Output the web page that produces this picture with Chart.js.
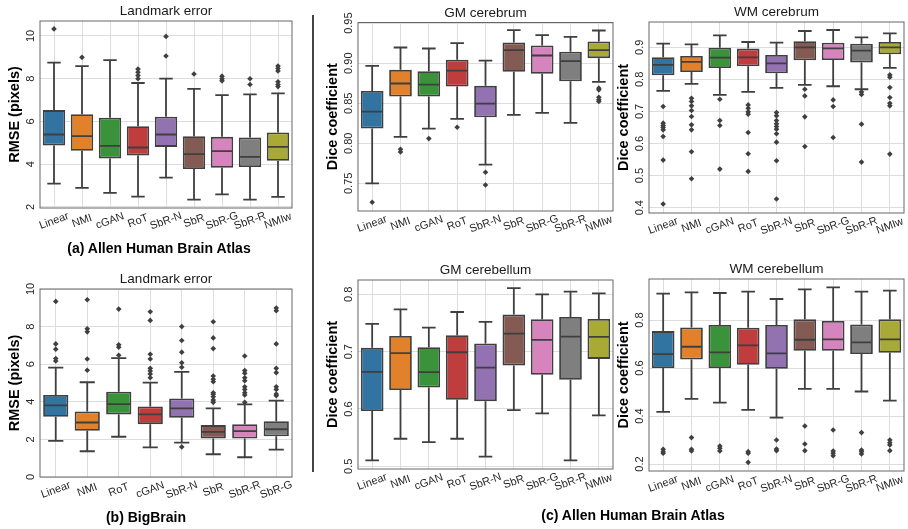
<!DOCTYPE html>
<html><head><meta charset="utf-8">
<script src="https://cdn.jsdelivr.net/npm/chart.js@4.4.1/dist/chart.umd.min.js"></script>
<style>
html,body{margin:0;padding:0;background:#fff;}
#wrap{position:relative;width:908px;height:529px;overflow:hidden;background:#fff;}
canvas{position:absolute;left:0;top:0;}
.cap{position:absolute;font-family:'Liberation Sans',Arial,sans-serif;font-weight:bold;font-size:14px;color:#000;white-space:nowrap;transform:translate(-50%,-50%);}
#sep{position:absolute;left:312px;top:15px;width:1.5px;height:457px;background:#444;}
</style></head><body>
<div id="wrap">
<canvas id="c1" width="908" height="529"></canvas>
<canvas id="c2" width="908" height="529"></canvas>
<canvas id="c3" width="908" height="529"></canvas>
<canvas id="c4" width="908" height="529"></canvas>
<canvas id="c5" width="908" height="529"></canvas>
<canvas id="c6" width="908" height="529"></canvas>
<div class="cap" style="left:159px;top:248px">(a) Allen Human Brain Atlas</div>
<div class="cap" style="left:146px;top:517px">(b) BigBrain</div>
<div class="cap" style="left:633px;top:515px">(c) Allen Human Brain Atlas</div>
<div id="sep"></div>
</div>
<script>
// ---------- data ----------
const catsAllen = ['Linear','NMI','cGAN','RoT','SbR-N','SbR','SbR-G','SbR-R','NMIw'];
const catsBig = ['Linear','NMI','RoT','cGAN','SbR-N','SbR','SbR-R','SbR-G'];

// (a) Landmark error, Allen
const a_q1  = [4.87, 4.63, 4.27, 4.41, 4.81, 3.77, 3.83, 3.87, 4.16];
const a_med = [5.39, 5.31, 4.86, 4.78, 5.39, 4.47, 4.61, 4.34, 4.81];
const a_q3  = [6.53, 6.34, 6.17, 5.78, 6.22, 5.31, 5.28, 5.25, 5.48];
const a_lo  = [3.09, 2.89, 2.66, 2.48, 3.37, 2.34, 2.59, 2.34, 2.47];
const a_hi  = [8.75, 8.59, 8.87, 7.80, 8.00, 7.52, 7.23, 7.27, 7.31];
const a_out = [[10.33],[9.0],[],[8.45,8.3,8.15,8.0],[9.98,9.06],[8.22],[8.12,8.0,7.9],[8.0,7.73],[8.59,8.48,8.36,7.86,7.73,7.63]];
const a_ticks = [2,4,6,8,10];

// (b) Landmark error, BigBrain
const b_q1  = [3.20, 2.46, 3.33, 2.81, 3.15, 2.05, 2.05, 2.17];
const b_med = [3.81, 2.90, 3.88, 3.33, 3.65, 2.40, 2.44, 2.54];
const b_q3  = [4.36, 3.49, 4.54, 3.75, 4.18, 2.76, 2.81, 2.97];
const b_lo  = [1.92, 1.37, 2.14, 1.58, 1.83, 1.21, 1.05, 1.46];
const b_hi  = [5.82, 5.04, 6.32, 5.02, 5.59, 3.65, 3.86, 4.06];
const b_out = [[9.34,7.08,6.8,6.3,6.17],[9.43,7.88,7.72,6.28,5.68],[8.93,7.03,6.9,6.48],
  [8.79,8.33,6.53,6.28,5.78,5.64,5.48,5.28],[8.0,7.26,6.64,6.08,5.84,1.6],
  [8.26,7.4,6.83,5.37,5.2,5.07,4.48,4.4,4.27,4.09,3.97],
  [6.44,5.66,5.52,5.28,5.12,4.8,4.66,4.48,4.36,3.97],
  [8.99,8.84,7.08,5.78,5.55,4.8,4.66,4.41,4.32]];
const b_ticks = [0,2,4,6,8,10];

// (c1) GM cerebrum
const gm_q1  = [0.8183,0.8583,0.8583,0.8708,0.8325,0.8892,0.8867,0.8775,0.9063];
const gm_med = [0.8396,0.8746,0.8733,0.8908,0.8496,0.9163,0.9096,0.9025,0.9163];
const gm_q3  = [0.8654,0.8917,0.8900,0.9042,0.8717,0.9258,0.9221,0.9142,0.9271];
const gm_lo  = [0.7500,0.8079,0.8183,0.8304,0.7733,0.8354,0.8379,0.8254,0.8767];
const gm_hi  = [0.8967,0.9196,0.9183,0.9250,0.9033,0.9413,0.9350,0.9329,0.9408];
const gm_out = [[0.7263],[0.7925,0.7892],[0.8058],[0.82],[0.7637,0.7479],[],[],[],[0.8688,0.8667,0.8575,0.8542,0.8521]];
const gm_ticks = [0.75,0.80,0.85,0.90,0.95];

// (c2) WM cerebrum
const wm_q1  = [0.8129,0.8232,0.8357,0.8409,0.8191,0.8595,0.8606,0.8523,0.8782];
const wm_med = [0.8450,0.8544,0.8678,0.8689,0.8502,0.9000,0.8969,0.8896,0.9000];
const wm_q3  = [0.8689,0.8730,0.8990,0.8959,0.8761,0.9187,0.9145,0.9114,0.9166];
const wm_lo  = [0.7641,0.7859,0.7517,0.7610,0.7734,0.7828,0.7786,0.7693,0.8357];
const wm_hi  = [0.9114,0.9093,0.9373,0.9166,0.9145,0.9508,0.9539,0.9311,0.9436];
const wm_out = [[0.7154,0.6635,0.656,0.65,0.6427,0.622,0.5483,0.4114],
  [0.7413,0.7309,0.7174,0.7029,0.6842,0.6583,0.6427,0.5743,0.4903],
  [0.7382,0.6718,0.6562,0.5203],
  [0.7205,0.7102,0.6988,0.6915,0.6344,0.568,0.5131],
  [0.6967,0.6863,0.6718,0.6614,0.6531,0.6448,0.6303,0.6043,0.5463,0.427],
  [0.7693,0.7485,0.6832,0.5909],
  [0.7361,0.7154,0.6189],
  [0.761,0.7527,0.6604,0.5421],
  [0.8139,0.8066,0.7745,0.7434,0.7257,0.7174,0.567]];
const wm_ticks = [0.4,0.5,0.6,0.7,0.8,0.9];

// (c3) GM cerebellum
const gmc_q1  = [0.5963,0.6329,0.6375,0.6160,0.6137,0.6758,0.6595,0.6508,0.6874];
const gmc_med = [0.6648,0.6973,0.6642,0.6990,0.6723,0.7315,0.7205,0.7263,0.7257];
const gmc_q3  = [0.7066,0.7275,0.7077,0.7286,0.7141,0.7646,0.7565,0.7605,0.7571];
const gmc_lo  = [0.5104,0.5481,0.5423,0.5481,0.5168,0.5980,0.5922,0.5104,0.5887];
const gmc_hi  = [0.7483,0.7739,0.7420,0.7692,0.7518,0.8110,0.8000,0.8046,0.8017];
const gmc_out = [[],[],[],[],[],[],[],[],[]];
const gmc_ticks = [0.5,0.6,0.7,0.8];

// (c4) WM cerebellum
const wmc_q1  = [0.6000,0.6358,0.6000,0.6135,0.5968,0.6720,0.6720,0.6580,0.6636];
const wmc_med = [0.6580,0.6887,0.6650,0.6942,0.6608,0.7179,0.7193,0.7067,0.7193];
const wmc_q3  = [0.7540,0.7694,0.7791,0.7680,0.7791,0.8028,0.7958,0.7819,0.8028];
const wmc_lo  = [0.4173,0.4715,0.4562,0.4256,0.3936,0.5133,0.5133,0.5022,0.4646];
const wmc_hi  = [0.9100,0.9155,0.9127,0.9183,0.8877,0.9280,0.9364,0.9183,0.9225];
const wmc_out = [[0.2614,0.2516,0.2447],[0.3101,0.2614,0.2544],[0.2753,0.2656,0.2544],
  [0.2516,0.2447,0.2071],[0.3003,0.2628,0.2558],[0.3588,0.2836,0.2558],
  [0.3421,0.2544,0.2447,0.2349],[0.331,0.2586,0.2516,0.2419],[0.3003,0.2892,0.2795,0.2558]];
const wmc_ticks = [0.2,0.4,0.6,0.8];

// ---------- style ----------
const palette = ['#3274a1','#e1812c','#3a923a','#c03d3e','#9372b2','#845b53','#d684bd','#7f7f7f','#a9aa35'];
const LINE = '#3f3f3f';
const FONT = "'Liberation Sans', Arial, sans-serif";

function makePanel(id, p) {
  const [L, T, R, B] = p.rect;
  const outPts = [];
  p.out.forEach((arr, i) => arr.forEach(v => outPts.push({x: p.cats[i], y: v})));
  const deco = {
    id: 'deco' + id,
    afterDatasetsDraw(chart) {
      const ctx = chart.ctx, ys = chart.scales.y;
      const meta = chart.getDatasetMeta(0);
      ctx.save();
      ctx.strokeStyle = LINE;
      ctx.lineWidth = 1.8;
      meta.data.forEach((bar, i) => {
        const x = bar.x, w = bar.width;
        const cap = w * 0.3;
        const yq1 = ys.getPixelForValue(p.q1[i]), yq3 = ys.getPixelForValue(p.q3[i]);
        const ylo = ys.getPixelForValue(p.lo[i]), yhi = ys.getPixelForValue(p.hi[i]);
        const ym = ys.getPixelForValue(p.med[i]);
        ctx.beginPath();
        ctx.moveTo(x, yq3); ctx.lineTo(x, yhi);
        ctx.moveTo(x - cap, yhi); ctx.lineTo(x + cap, yhi);
        ctx.moveTo(x, yq1); ctx.lineTo(x, ylo);
        ctx.moveTo(x - cap, ylo); ctx.lineTo(x + cap, ylo);
        ctx.moveTo(x - w / 2 + 1, ym); ctx.lineTo(x + w / 2 - 1, ym);
        ctx.stroke();
      });
      ctx.restore();
    },
    afterDraw(chart) {
      const ctx = chart.ctx, a = chart.chartArea;
      const ys = chart.scales.y, xs = chart.scales.x;
      ctx.save();
      ctx.strokeStyle = '#666';
      ctx.lineWidth = 1;
      ctx.strokeRect(a.left, a.top, a.right - a.left, a.bottom - a.top);
      ctx.fillStyle = '#262626';
      ctx.font = '11px ' + FONT;
      ctx.textAlign = 'center';
      ctx.textBaseline = 'middle';
      p.ticks.forEach(v => {
        const y = ys.getPixelForValue(v);
        ctx.save();
        ctx.translate(a.left - 9, y);
        ctx.rotate(-Math.PI / 2);
        ctx.fillText(v.toFixed(p.dec), 0, 0);
        ctx.restore();
      });
      p.cats.forEach((c, i) => {
        const x = xs.getPixelForValue(i);
        ctx.save();
        ctx.translate(x, a.bottom + 13);
        ctx.rotate(-20 * Math.PI / 180);
        ctx.fillText(c, 0, 0);
        ctx.restore();
      });
      ctx.fillStyle = '#000';
      ctx.font = 'bold 14.5px ' + FONT;
      ctx.save();
      ctx.translate(a.left - 25, (a.top + a.bottom) / 2);
      ctx.rotate(-Math.PI / 2);
      ctx.fillText(p.ytitle, 0, 0);
      ctx.restore();
      ctx.fillStyle = '#1a1a1a';
      ctx.font = '13.5px ' + FONT;
      ctx.fillText(p.title, (a.left + a.right) / 2, a.top - 9.5);
      ctx.restore();
    }
  };
  new Chart(document.getElementById(id), {
    type: 'bar',
    data: {
      labels: p.cats,
      datasets: [
        {
          type: 'bar',
          data: p.cats.map((c, i) => [p.q1[i], p.q3[i]]),
          backgroundColor: p.cats.map((c, i) => palette[i]),
          borderColor: LINE,
          borderWidth: 1.8,
          borderSkipped: false,
          barPercentage: 0.8,
          categoryPercentage: 1.0
        },
        {
          type: 'line',
          data: outPts,
          showLine: false,
          pointStyle: 'rectRot',
          pointRadius: 2.8,
          pointBackgroundColor: LINE,
          pointBorderColor: LINE,
          pointBorderWidth: 0
        }
      ]
    },
    options: {
      responsive: false,
      animation: false,
      events: [],
      layout: { padding: { left: L, top: T, right: 908 - R, bottom: 529 - B } },
      plugins: { legend: { display: false }, tooltip: { enabled: false }, title: { display: false } },
      scales: {
        x: {
          type: 'category',
          offset: true,
          grid: { offset: false, color: '#dddddd', lineWidth: 1, drawTicks: false },
          border: { display: false },
          ticks: { display: false },
          afterFit: s => { s.height = 0; }
        },
        y: {
          type: 'linear',
          min: p.range[0],
          max: p.range[1],
          grid: { color: '#dddddd', lineWidth: 1, drawTicks: false },
          border: { display: false },
          ticks: { display: false },
          afterBuildTicks: s => { s.ticks = p.ticks.map(v => ({ value: v })); },
          afterFit: s => { s.width = 0; }
        }
      }
    },
    plugins: [deco]
  });
}

makePanel('c1', {cats: catsAllen, q1: a_q1, med: a_med, q3: a_q3, lo: a_lo, hi: a_hi, out: a_out,
  ticks: a_ticks, dec: 0, range: [1.95, 10.7], rect: [40, 21, 292, 208], title: 'Landmark error', ytitle: 'RMSE (pixels)'});
makePanel('c2', {cats: catsBig, q1: b_q1, med: b_med, q3: b_q3, lo: b_lo, hi: b_hi, out: b_out,
  ticks: b_ticks, dec: 0, range: [0, 10], rect: [40, 289, 292, 477], title: 'Landmark error', ytitle: 'RMSE (pixels)'});
makePanel('c3', {cats: catsAllen, q1: gm_q1, med: gm_med, q3: gm_q3, lo: gm_lo, hi: gm_hi, out: gm_out,
  ticks: gm_ticks, dec: 2, range: [0.7154, 0.9508], rect: [358, 22.5, 613, 211], title: 'GM cerebrum', ytitle: 'Dice coefficient'});
makePanel('c4', {cats: catsAllen, q1: wm_q1, med: wm_med, q3: wm_q3, lo: wm_lo, hi: wm_hi, out: wm_out,
  ticks: wm_ticks, dec: 1, range: [0.3834, 0.9789], rect: [649, 22, 907, 213], title: 'WM cerebrum', ytitle: 'Dice coefficient'});
makePanel('c5', {cats: catsAllen, q1: gmc_q1, med: gmc_med, q3: gmc_q3, lo: gmc_lo, hi: gmc_hi, out: gmc_out,
  ticks: gmc_ticks, dec: 1, range: [0.4953, 0.825], rect: [358, 280, 613, 469], title: 'GM cerebellum', ytitle: 'Dice coefficient'});
makePanel('c6', {cats: catsAllen, q1: wmc_q1, med: wmc_med, q3: wmc_q3, lo: wmc_lo, hi: wmc_hi, out: wmc_out,
  ticks: wmc_ticks, dec: 1, range: [0.171, 0.971], rect: [649, 279, 907, 471], title: 'WM cerebellum', ytitle: 'Dice coefficient'});
</script>
</body></html>
